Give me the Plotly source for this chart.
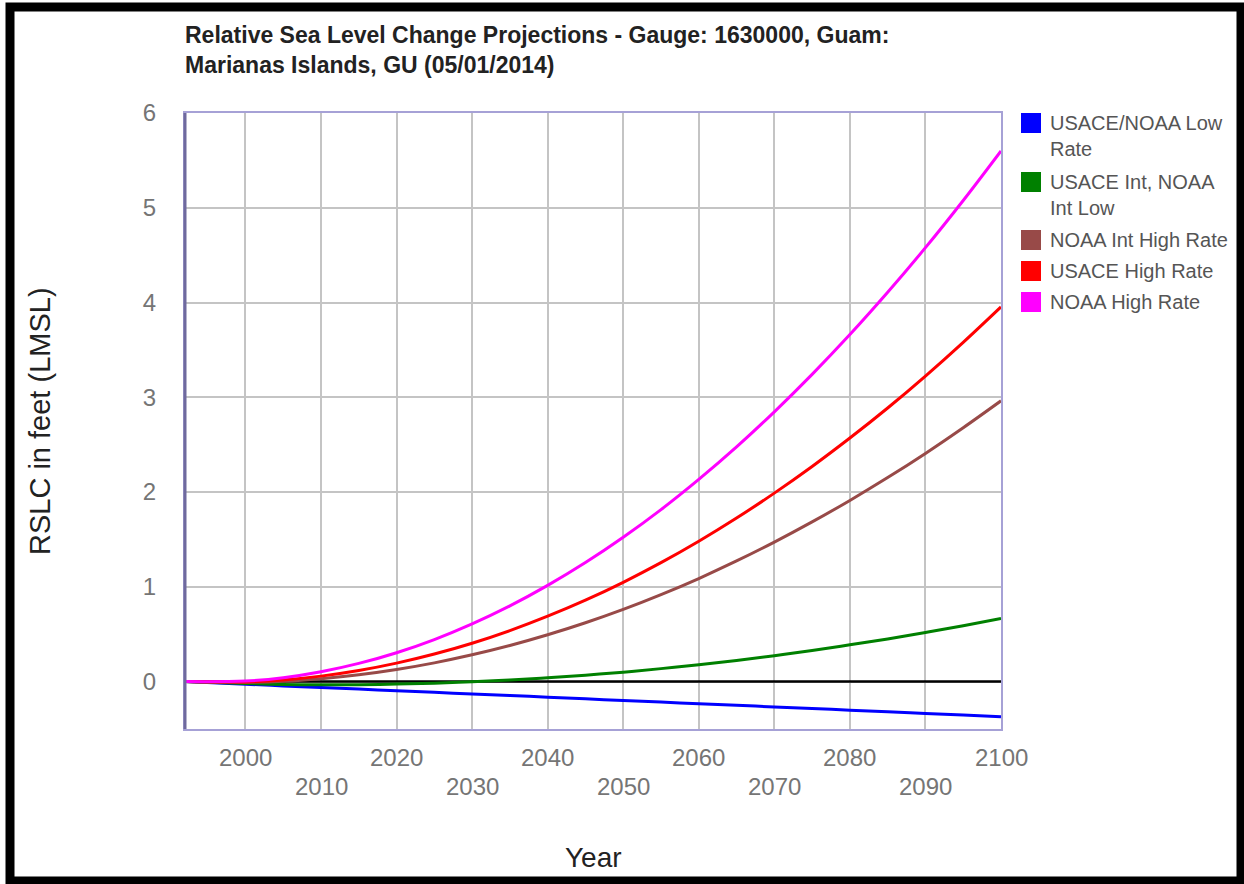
import plotly.graph_objects as go

years = [1992, 2000, 2005, 2010, 2015, 2020, 2025, 2030, 2035, 2040, 2045,
         2050, 2055, 2060, 2065, 2070, 2075, 2080, 2085, 2090, 2095, 2100]
low_rate = [0, -0.027, -0.045, -0.062, -0.079, -0.096, -0.113, -0.130, -0.147, -0.164, -0.182,
            -0.199, -0.216, -0.233, -0.250, -0.267, -0.284, -0.301, -0.319, -0.336, -0.353, -0.370]
int_low = [0, -0.021, -0.030, -0.033, -0.032, -0.026, -0.016, -0.002, 0.017, 0.041, 0.068,
           0.100, 0.137, 0.178, 0.224, 0.274, 0.328, 0.388, 0.450, 0.518, 0.590, 0.667]
noaa_int_high = [0, -0.009, 0.003, 0.031, 0.072, 0.128, 0.198, 0.283, 0.381, 0.494, 0.621,
                 0.762, 0.918, 1.088, 1.273, 1.472, 1.685, 1.912, 2.153, 2.408, 2.679, 2.963]
usace_high = [0, -0.003, 0.018, 0.058, 0.117, 0.195, 0.291, 0.405, 0.538, 0.690, 0.859,
              1.048, 1.255, 1.481, 1.726, 1.989, 2.270, 2.570, 2.887, 3.224, 3.580, 3.954]
noaa_high = [0, 0.006, 0.041, 0.104, 0.192, 0.305, 0.444, 0.609, 0.799, 1.015, 1.256,
             1.523, 1.815, 2.134, 2.477, 2.847, 3.242, 3.662, 4.108, 4.579, 5.077, 5.600]

series_names = ["USACE/NOAA Low<br>Rate", "USACE Int, NOAA<br>Int Low", "NOAA Int High Rate",
                "USACE High Rate", "NOAA High Rate"]
series_values = [low_rate, int_low, noaa_int_high, usace_high, noaa_high]
series_colors = ["#0000ff", "#008000", "#984a48", "#ff0000", "#ff00ff"]

x_row1 = [2000, 2020, 2040, 2060, 2080, 2100]
x_row2 = [2010, 2030, 2050, 2070, 2090]
y_ticks = [0, 1, 2, 3, 4, 5, 6]
baseline_x = [1992, 2100]
baseline_y = [0, 0]

W, H = 1244, 884
L, R, T, B = 185, 1001, 113, 729
PW, PH = R - L, B - T


def px(x):
    return (x - L) / PW


def py(y):
    return (B - y) / PH


fig = go.Figure()
# zero baseline
fig.add_trace(go.Scatter(x=baseline_x, y=baseline_y, mode="lines",
                         line=dict(color="#000000", width=2.5),
                         showlegend=False, hoverinfo="skip"))
for name, vals, col in zip(series_names, series_values, series_colors):
    fig.add_trace(go.Scatter(x=years, y=vals, mode="lines", name=name,
                             line=dict(color=col, width=3, shape="spline"),
                             showlegend=False, hoverinfo="skip"))

shapes = []
annotations = []

# darker left border
shapes.append(dict(type="line", xref="paper", yref="paper", x0=0, x1=0, y0=0, y1=1,
                   line=dict(color="#6f6a9e", width=3)))
# outer black frame
shapes.append(dict(type="rect", xref="paper", yref="paper",
                   x0=px(10), x1=px(1241), y0=py(7), y1=py(881),
                   line=dict(color="#000000", width=9), fillcolor="rgba(0,0,0,0)"))

tick_font = dict(size=24, color="#757575")
# x tick labels (two staggered rows)
for yr in x_row1:
    annotations.append(dict(x=yr, y=py(757), xref="x", yref="paper", text=str(yr),
                            showarrow=False, xanchor="center", yanchor="middle",
                            font=tick_font))
for yr in x_row2:
    annotations.append(dict(x=yr, y=py(786), xref="x", yref="paper", text=str(yr),
                            showarrow=False, xanchor="center", yanchor="middle",
                            font=tick_font))

# title
annotations.append(dict(x=px(183), y=py(50), xref="paper", yref="paper",
                        text="<b>Relative Sea Level Change Projections - Gauge: 1630000, Guam:<br>Marianas Islands, GU (05/01/2014)</b>",
                        showarrow=False, xanchor="left", yanchor="middle", align="left",
                        font=dict(size=23, color="#222222")))
# axis titles
annotations.append(dict(x=px(40), y=py(421), xref="paper", yref="paper",
                        text="RSLC in feet (LMSL)", textangle=-90, showarrow=False,
                        xanchor="center", yanchor="middle",
                        font=dict(size=29, color="#222222")))
annotations.append(dict(x=px(593), y=py(857), xref="paper", yref="paper",
                        text="Year", showarrow=False, xanchor="center", yanchor="middle",
                        font=dict(size=28, color="#222222")))

# legend
legend_y = [123, 182, 240, 271, 302]
for name, col, ly in zip(series_names, series_colors, legend_y):
    shapes.append(dict(type="rect", xref="paper", yref="paper",
                       x0=px(1021), x1=px(1041), y0=py(ly + 10), y1=py(ly - 10),
                       fillcolor=col, line=dict(color=col, width=0)))
    annotations.append(dict(x=px(1048), y=py(ly - 13), xref="paper", yref="paper",
                            text=name, showarrow=False, xanchor="left", yanchor="top",
                            align="left", font=dict(size=20, color="#555555")))

fig.update_layout(
    width=W, height=H,
    margin=dict(l=L, r=W - R, t=T, b=H - B, pad=0),
    paper_bgcolor="white", plot_bgcolor="white",
    font=dict(family="Arial, Liberation Sans, sans-serif"),
    showlegend=False,
    shapes=shapes, annotations=annotations,
    xaxis=dict(range=[1992, 2100], tickvals=list(range(2000, 2101, 10)), showticklabels=False,
               showgrid=True, gridcolor="#c4c4c4", gridwidth=1.5, zeroline=False,
               showline=True, mirror=True, linecolor="#a6a1d6", linewidth=2, ticks=""),
    yaxis=dict(range=[-0.5, 6], tickvals=y_ticks, showgrid=True, gridcolor="#c4c4c4",
               gridwidth=1.5, zeroline=False, showline=True, mirror=True,
               linecolor="#a6a1d6", linewidth=2, ticks="", ticklabelstandoff=22,
               tickfont=tick_font),
)

fig.write_html("out.html")
